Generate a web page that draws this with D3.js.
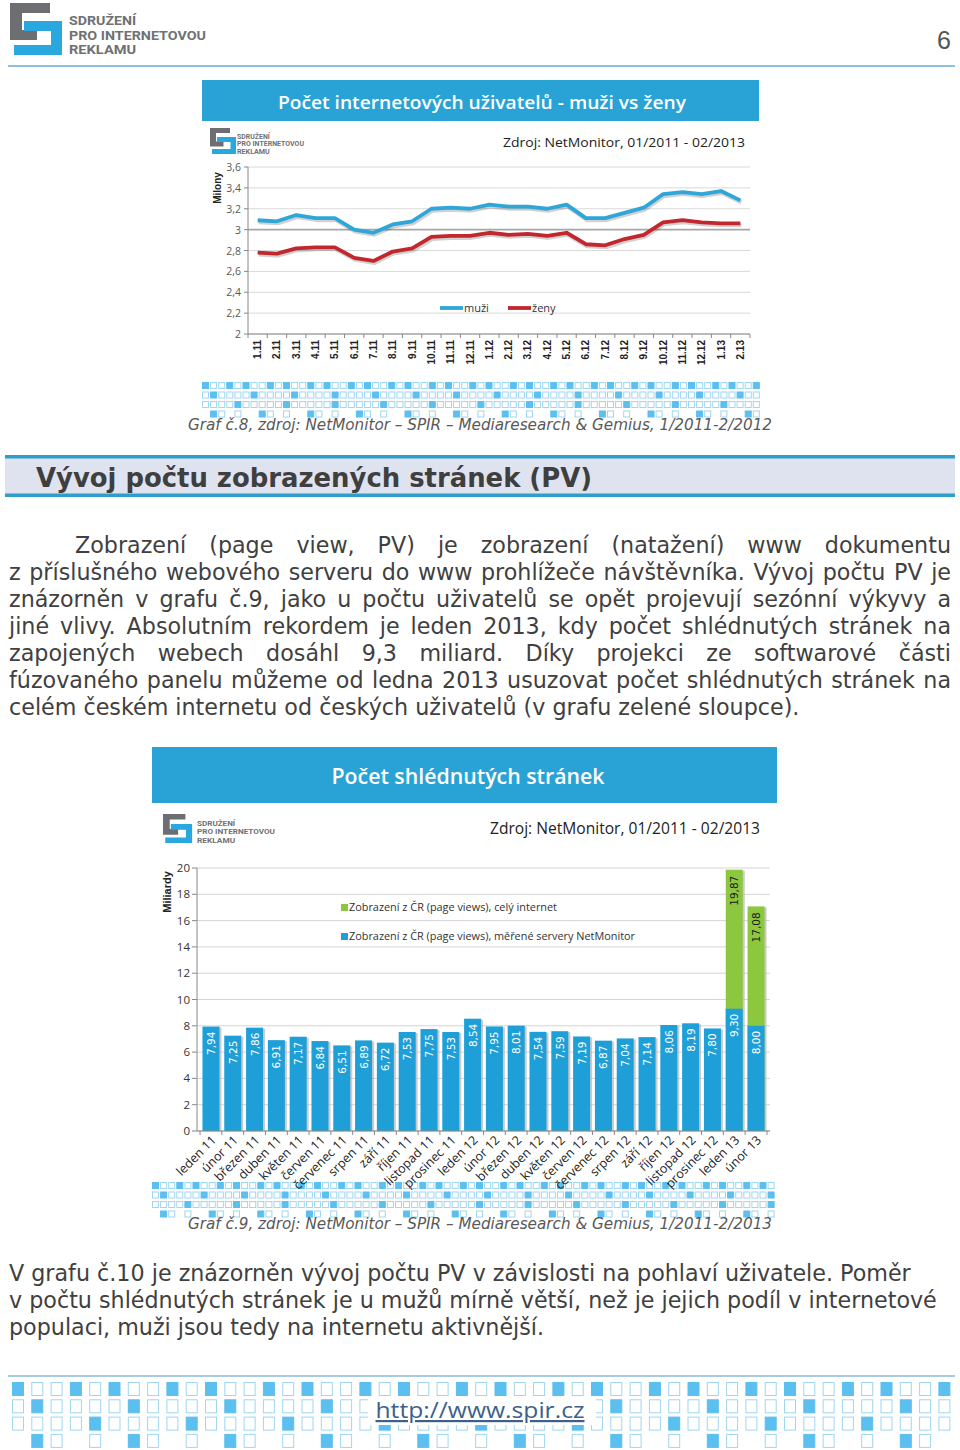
<!DOCTYPE html>
<html><head><meta charset="utf-8">
<script src="https://cdn.jsdelivr.net/npm/d3@7"></script>
<style>body{margin:0;background:#fff}svg{display:block}</style>
</head><body><svg id="c" width="960" height="1450"></svg>
<script>
// ---------- DATA ----------
const lineCategories = ["1.11","2.11","3.11","4.11","5.11","6.11","7.11","8.11","9.11","10.11","11.11","12.11","1.12","2.12","3.12","4.12","5.12","6.12","7.12","8.12","9.12","10.12","11.12","12.12","1.13","2.13"];
const muzi = [3.09,3.08,3.14,3.11,3.11,3.00,2.97,3.05,3.08,3.20,3.21,3.20,3.24,3.22,3.22,3.20,3.24,3.11,3.11,3.16,3.21,3.34,3.36,3.34,3.37,3.28];
const zeny = [2.78,2.77,2.82,2.83,2.83,2.73,2.70,2.79,2.82,2.93,2.94,2.94,2.97,2.95,2.96,2.94,2.97,2.86,2.85,2.91,2.95,3.07,3.09,3.07,3.06,3.06];
const lineTicks = [2,2.2,2.4,2.6,2.8,3,3.2,3.4,3.6];
const lineSeriesNames = ["muži","ženy"];

const barCategories = ["leden 11","únor 11","březen 11","duben 11","květen 11","červen 11","červenec 11","srpen 11","září 11","říjen 11","listopad 11","prosinec 11","leden 12","únor 12","březen 12","duben 12","květen 12","červen 12","červenec 12","srpen 12","září 12","říjen 12","listopad 12","prosinec 12","leden 13","únor 13"];
const pvMeasured = [7.94,7.25,7.86,6.91,7.17,6.84,6.51,6.89,6.72,7.53,7.75,7.53,8.54,7.95,8.01,7.54,7.59,7.19,6.87,7.04,7.14,8.06,8.19,7.80,9.30,8.00];
const pvTotal = [null,null,null,null,null,null,null,null,null,null,null,null,null,null,null,null,null,null,null,null,null,null,null,null,19.87,17.08];
const barTicks = [0,2,4,6,8,10,12,14,16,18,20];
const barSeriesNames = ["Zobrazení z ČR (page views), celý internet","Zobrazení z ČR (page views), měřené servery NetMonitor"];

const para1 = [
 "Zobrazení (page view, PV) je zobrazení (natažení) www dokumentu",
 "z příslušného webového serveru do www prohlížeče návštěvníka. Vývoj počtu PV je",
 "znázorněn v grafu č.9, jako u počtu uživatelů se opět projevují sezónní výkyvy a",
 "jiné vlivy. Absolutním rekordem je leden 2013, kdy počet shlédnutých stránek na",
 "zapojených webech dosáhl 9,3 miliard. Díky projekci ze softwarové části",
 "fúzovaného panelu můžeme od ledna 2013 usuzovat počet shlédnutých stránek na",
 "celém českém internetu od českých uživatelů (v grafu zelené sloupce)."
];
const para2 = [
 "V grafu č.10 je znázorněn vývoj počtu PV v závislosti na pohlaví uživatele. Poměr",
 "v počtu shlédnutých stránek je u mužů mírně větší, než je jejich podíl v internetové",
 "populaci, muži jsou tedy na internetu aktivnější."
];

// ---------- HELPERS ----------
const svg = d3.select("#c");
svg.append("rect").attr("width",960).attr("height",1450).attr("fill","#fff");
const BLUE = "#29a3d6", GREEN = "#8dc63f", RED = "#c1272d", LBLUE = "#2ea6d8";
const CAL = "'Open Sans','Noto Sans',sans-serif";
const VER = "'DejaVu Sans',Verdana,sans-serif";
const ARB = "'Liberation Sans',Arial,sans-serif";

function txt(g, x, y, s, o={}) {
  const t = g.append("text").attr("x",x).attr("y",y).text(s)
    .style("font-family",o.f||CAL).style("font-size",(o.s||12)+"px")
    .attr("fill",o.c||"#333").attr("text-anchor",o.a||"start");
  if (o.w) t.style("font-weight",o.w);
  if (o.i) t.style("font-style","italic");
  if (o.len) t.attr("textLength",o.len).attr("lengthAdjust","spacingAndGlyphs");
  return t;
}

function logo(g, x, y, k, textX, fs, textLen) {
  const l = g.append("g").attr("transform",`translate(${x},${y}) scale(${k})`);
  l.append("path").attr("d","M0,0 H40 V10 H12 V27 H27 V37 H0 Z").attr("fill","#6d6e71");
  l.append("path").attr("d","M14,18 H52 V52 H4 V42 H41 V28 H14 Z").attr("fill","#29a8e0");
  const lines = ["SDRUŽENÍ","PRO INTERNETOVOU","REKLAMU"];
  lines.forEach((s,i)=>{
    const t = txt(g, textX, y + (22 + i*14.5)*k, s, {f:"'Roboto','Liberation Sans',sans-serif", s:fs, w:"bold", c:"#707174"});
    t.attr("textLength", i===1 ? textLen : textLen*0.49).attr("lengthAdjust","spacingAndGlyphs");
  });
}

function pattern(g, x0, x1, y0, cw, ch, px, py, rules) {
  const n = Math.floor((x1-x0+ (px-cw))/px);
  rules.forEach((rule,r)=>{
    for (let i=0;i<n;i++){
      const k = rule(i);
      if (!k) continue;
      g.append("rect").attr("x",x0+i*px+0.5).attr("y",y0+r*py+0.5).attr("width",cw-1).attr("height",ch-1)
        .attr("fill",k===2?"#5bbff0":"#fff").attr("stroke",k===2?"#5bbff0":"#9fd6f0").attr("stroke-width",1);
    }
  });
}
const rules = [
  i => (i%5===0||i%5===3)?2:1,
  i => (i%5===1)?2:1,
  i => (i%6===4)?2:1,
  i => (i%6===1)?2:((i%6===2||i%6===4)?1:0)
];

function measure(s, f, size, weight) {
  const t = svg.append("text").text(s).style("font-family",f).style("font-size",size+"px");
  if (weight) t.style("font-weight",weight);
  const w = t.node().getComputedTextLength(); t.remove(); return w;
}

function textLine(g, s, x0, x1, y, size, justify) {
  const words = s.split(" ");
  const widths = words.map(w=>measure(w, VER, size));
  const sp = measure("a a",VER,size) - measure("aa",VER,size);
  const total = d3.sum(widths);
  const gap = justify ? (x1-x0-total)/(words.length-1) : sp;
  const t = g.append("text").attr("y",y).style("font-family",VER).style("font-size",size+"px").attr("fill","#404040");
  let x = x0;
  words.forEach((w,i)=>{ t.append("tspan").attr("x",x).text(w); x += widths[i]+gap; });
}

// ---------- PAGE HEADER ----------
const hdr = svg.append("g");
logo(hdr, 10, 3, 1.0, 69, 13, 137);
txt(hdr, 944, 49, "6", {f:ARB, s:25, c:"#555", a:"middle"});
hdr.append("line").attr("x1",8).attr("x2",955).attr("y1",66).attr("y2",66).attr("stroke","#8ec1de").attr("stroke-width",2);

// ---------- CHART 1: line chart ----------
const c1 = svg.append("g");
c1.append("rect").attr("x",202).attr("y",80).attr("width",557).attr("height",41).attr("fill",BLUE);
txt(c1, 482, 109, "Počet internetových uživatelů - muži vs ženy", {s:18.5, w:600, c:"#fff", a:"middle", len:408});
logo(c1, 210, 128, 0.5, 237, 6.8, 67);
txt(c1, 745, 147, "Zdroj: NetMonitor, 01/2011 - 02/2013", {s:13, c:"#222", a:"end", len:242});

const lx = d3.scalePoint().domain(lineCategories).range([248,750]).padding(0.5);
const ly = d3.scaleLinear().domain([2,3.6]).range([334,167]);
c1.selectAll(".g1").data(lineTicks).join("line")
  .attr("x1",248).attr("x2",750).attr("y1",d=>ly(d)).attr("y2",d=>ly(d))
  .attr("stroke",d=>d===3?"#a6a6a6":"#d9d9d9").attr("stroke-width",d=>d===3?1.6:1);
c1.selectAll(".yl1").data(lineTicks).join("text")
  .attr("x",241).attr("y",d=>ly(d)+4).attr("text-anchor","end")
  .style("font-family",CAL).style("font-size","10.5px").attr("fill","#595959")
  .text(d=>d3.format(".1f")(d).replace(/\.0$/,"").replace(".",","));
c1.selectAll(".yt1").data(lineTicks).join("line").attr("x1",244).attr("x2",248)
  .attr("y1",d=>ly(d)).attr("y2",d=>ly(d)).attr("stroke","#888");
c1.append("line").attr("x1",248).attr("x2",248).attr("y1",167).attr("y2",334).attr("stroke","#888");
c1.append("line").attr("x1",248).attr("x2",750).attr("y1",334).attr("y2",334).attr("stroke","#888");
const step1 = lx.step();
d3.range(lineCategories.length+1).forEach(i=>{
  c1.append("line").attr("x1",248+i*step1).attr("x2",248+i*step1).attr("y1",334).attr("y2",338).attr("stroke","#888");
});
c1.selectAll(".xl1").data(lineCategories).join("text")
  .attr("transform",d=>`translate(${lx(d)+3.5},340) rotate(-90)`).attr("text-anchor","end")
  .style("font-family",ARB).style("font-size","10px").style("font-weight","bold").attr("fill","#222").text(d=>d);
txt(c1, 0, 0, "Milony", {f:ARB, s:10, w:"bold", c:"#222", a:"middle"}).attr("transform","translate(221,188) rotate(-90)");

const line = d3.line().x((d,i)=>lx(lineCategories[i])).y(d=>ly(d)).curve(d3.curveLinear);
[[muzi,LBLUE],[zeny,RED]].forEach(([data,col])=>{
  c1.append("path").attr("d",line(data)).attr("fill","none").attr("stroke","#000").attr("stroke-opacity",0.18)
    .attr("stroke-width",4).attr("transform","translate(1,2)").attr("stroke-linejoin","round");
  c1.append("path").attr("d",line(data)).attr("fill","none").attr("stroke",col).attr("stroke-width",3.8).attr("stroke-linejoin","round");
});
// legend
c1.append("line").attr("x1",440).attr("x2",463).attr("y1",308).attr("y2",308).attr("stroke",LBLUE).attr("stroke-width",3.8);
txt(c1, 464, 312, lineSeriesNames[0], {s:11, c:"#333"});
c1.append("line").attr("x1",508).attr("x2",531).attr("y1",308).attr("y2",308).attr("stroke",RED).attr("stroke-width",3.8);
txt(c1, 532, 312, lineSeriesNames[1], {s:11, c:"#333"});

pattern(c1, 202, 760, 382, 7, 7, 8.1, 9.5, rules);
txt(c1, 480, 430, "Graf č.8, zdroj: NetMonitor – SPIR – Mediaresearch & Gemius, 1/2011-2/2012", {f:VER, s:15, i:true, c:"#595959", a:"middle", len:584});

// ---------- SECTION HEADING ----------
const sh = svg.append("g");
sh.append("rect").attr("x",5).attr("y",456).attr("width",950).attr("height",40).attr("fill","#dfe3ef");
sh.append("rect").attr("x",5).attr("y",455).attr("width",950).attr("height",3.5).attr("fill","#2e9fcb");
sh.append("rect").attr("x",5).attr("y",493.5).attr("width",950).attr("height",3.5).attr("fill","#2e9fcb");
txt(sh, 36, 487, "Vývoj počtu zobrazených stránek (PV)", {f:"'DejaVu Sans Condensed','DejaVu Sans',sans-serif", s:27, w:"bold", c:"#3f3f3f", len:556});

// ---------- PARAGRAPH 1 ----------
const bodySize = 20 * 791 / measure(para1[6], VER, 20);
const p1 = svg.append("g");
para1.forEach((s,i)=>{
  textLine(p1, s, i===0?75:9, 951, 553+i*27, bodySize, i<para1.length-1);
});

// ---------- CHART 2: bar chart ----------
const c2 = svg.append("g");
c2.append("rect").attr("x",152).attr("y",747).attr("width",625).attr("height",56).attr("fill",BLUE);
txt(c2, 468, 784, "Počet shlédnutých stránek", {s:21, w:600, c:"#fff", a:"middle", len:273});
logo(c2, 163, 814, 0.56, 197, 7.5, 78);
txt(c2, 760, 834, "Zdroj: NetMonitor, 01/2011 - 02/2013", {s:15.5, c:"#222", a:"end", len:270});

const bx = d3.scaleBand().domain(barCategories).range([197,770]).paddingInner(0.22).paddingOuter(0.25);
const by = d3.scaleLinear().domain([0,20]).range([1131,868]);
c2.selectAll(".g2").data(barTicks).join("line")
  .attr("x1",197).attr("x2",770).attr("y1",d=>by(d)).attr("y2",d=>by(d))
  .attr("stroke","#d4d4d4");
c2.selectAll(".yt2").data(barTicks).join("line").attr("x1",192).attr("x2",197)
  .attr("y1",d=>by(d)).attr("y2",d=>by(d)).attr("stroke","#888");
c2.selectAll(".yl2").data(barTicks).join("text")
  .attr("x",190).attr("y",d=>by(d)+4).attr("text-anchor","end")
  .style("font-family",CAL).style("font-size","11.5px").attr("fill","#333").text(d=>d);
c2.append("line").attr("x1",197).attr("x2",197).attr("y1",868).attr("y2",1131).attr("stroke","#888");
txt(c2, 0, 0, "Miliardy", {f:ARB, s:11, w:"bold", c:"#222", a:"middle"}).attr("transform","translate(171,892) rotate(-90)");

const bw = bx.bandwidth();
// shadows
c2.selectAll(".sh").data(barCategories).join("rect")
  .attr("x",d=>bx(d)+2).attr("width",bw).attr("y",(d,i)=>by(pvTotal[i]!=null?pvTotal[i]:pvMeasured[i])+1)
  .attr("height",(d,i)=>1131-by(pvTotal[i]!=null?pvTotal[i]:pvMeasured[i])-1).attr("fill","#b5b5b5").attr("opacity",0.7);
// green totals
c2.selectAll(".gb").data(barCategories.filter((d,i)=>pvTotal[i]!=null)).join("rect")
  .attr("x",d=>bx(d)).attr("width",bw).attr("y",d=>by(pvTotal[barCategories.indexOf(d)]))
  .attr("height",d=>1131-by(pvTotal[barCategories.indexOf(d)])).attr("fill",GREEN);
// blue measured
c2.selectAll(".bb").data(barCategories).join("rect")
  .attr("x",d=>bx(d)).attr("width",bw).attr("y",(d,i)=>by(pvMeasured[i]))
  .attr("height",(d,i)=>1131-by(pvMeasured[i])).attr("fill","#1f9fd7");
c2.append("line").attr("x1",197).attr("x2",770).attr("y1",1131).attr("y2",1131).attr("stroke","#888");
d3.range(barCategories.length+1).forEach(i=>{
  const xx = 197 + bx.step()*0.25 - bx.step()*0.11 + i*bx.step();
  c2.append("line").attr("x1",xx).attr("x2",xx).attr("y1",1131).attr("y2",1135).attr("stroke","#888");
});
const fmt = d => d.toFixed(2).replace(".",",");
c2.selectAll(".vl").data(barCategories).join("text")
  .attr("transform",(d,i)=>`translate(${bx(d)+bw/2+4},${by(pvMeasured[i])+5}) rotate(-90)`)
  .attr("text-anchor","end").style("font-family",VER).style("font-size","10.5px").attr("fill","#fff")
  .text((d,i)=>fmt(pvMeasured[i]));
c2.selectAll(".tl").data(barCategories.filter((d,i)=>pvTotal[i]!=null)).join("text")
  .attr("transform",d=>`translate(${bx(d)+bw/2+4},${by(pvTotal[barCategories.indexOf(d)])+6}) rotate(-90)`)
  .attr("text-anchor","end").style("font-family",VER).style("font-size","10.5px").attr("fill","#1b1b1b")
  .text(d=>fmt(pvTotal[barCategories.indexOf(d)]));
c2.selectAll(".xl2").data(barCategories).join("text")
  .attr("transform",d=>`translate(${bx(d)+bw/2+6},1141) rotate(-45)`).attr("text-anchor","end")
  .style("font-family",CAL).style("font-size","12.5px").attr("fill","#222").text(d=>d);
// legend
c2.append("rect").attr("x",341).attr("y",904).attr("width",7).attr("height",7).attr("fill",GREEN);
txt(c2, 349, 911, barSeriesNames[0], {s:11, c:"#333", len:208});
c2.append("rect").attr("x",341).attr("y",933).attr("width",7).attr("height",7).attr("fill","#1f9fd7");
txt(c2, 349, 940, barSeriesNames[1], {s:11, c:"#333", len:286});

const pg2 = svg.insert("g", () => c2.node());
pattern(pg2, 152, 777, 1182, 7, 7, 8.1, 9.5, rules);
txt(c2, 480, 1229, "Graf č.9, zdroj: NetMonitor – SPIR – Mediaresearch & Gemius, 1/2011-2/2013", {f:VER, s:15, i:true, c:"#595959", a:"middle", len:584});

// ---------- PARAGRAPH 2 ----------
const p2 = svg.append("g");
para2.forEach((s,i)=> textLine(p2, s, 9, 951, 1281+i*27, bodySize, false));

// ---------- FOOTER ----------
const ft = svg.append("g");
ft.append("line").attr("x1",8).attr("x2",955).attr("y1",1376).attr("y2",1376).attr("stroke","#a9cbe0").attr("stroke-width",2);
pattern(ft, 12, 955, 1382, 12, 14, 19.3, 17.3, [
  i => (i%5===0||i%5===3)?2:1,
  i => (i%5===1)?2:1,
  i => (i%5===4)?2:1,
  i => (i%5===1)?2:((i%5===2||i%5===4)?1:0)
]);
ft.append("rect").attr("x",368).attr("y",1397).attr("width",228).attr("height",28).attr("fill","#fff");
txt(ft, 480, 1418, "http://www.spir.cz", {s:22, c:"#3d5f8a", a:"middle", len:209}).style("text-decoration","underline");
</script></body></html>
